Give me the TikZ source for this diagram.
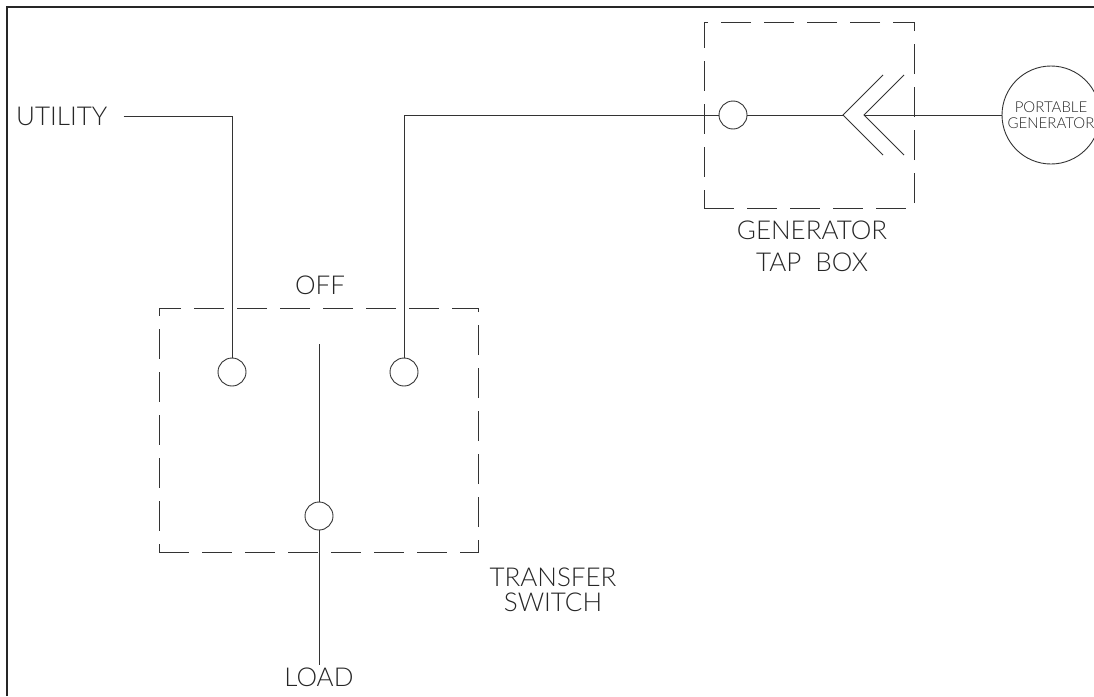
\documentclass[tikz,border=0pt]{standalone}
\usepackage{fontspec}
\setmainfont{Lato}[UprightFont=* Light]
\usetikzlibrary{positioning}

\tikzset{
  wire/.style={draw=black!80, line width=0.9pt},
  term/.style={circle, draw=black!80, line width=0.9pt, minimum size=28pt, inner sep=0pt},
  cabinet/.style={draw=black!80, line width=0.9pt, dash pattern=on 30pt off 13pt, inner sep=0pt},
  tag/.style={font=\fontsize{26}{25}\selectfont, text=black!85, align=center, inner sep=2pt},
}

\begin{document}
\begin{tikzpicture}[x=1pt,y=-1pt]
\useasboundingbox (0,0) rectangle (1094,696);
%%%FRAME
\draw[line width=2pt, black!85] (7,696) -- (7,7) -- (1094,7);

%%%BOXES
\node[cabinet, minimum width=319pt, minimum height=244pt] (switchbox) at (318.5,430) {};
\node[cabinet, minimum width=210pt, minimum height=186pt] (tapbox) at (809,115) {};

%%%TERMINALS
\node[term] (tu) at (232,372) {};
\node[term] (tg) at (404,372) {};
\node[term] (tl) at (319,516) {};
\node[term] (tb) at (733,115) {};
\node[circle, draw=black!80, line width=0.9pt, minimum size=98pt, inner sep=0pt] (pg) at (1051,115) {};
\coordinate (blade) at (319,344);
\coordinate (plug) at (843,115);
\coordinate (socket) at (864,115);

%%%LABELS
\node[tag, anchor=west, inner xsep=0pt] (utility) at (16,116) {UTILITY};
\node[tag] (off) at (320,285) {OFF};
\node[tag] (load) at (319,677) {LOAD};
\node[tag] (switchname) at (553,590) {TRANSFER\\SWITCH};
\node[tag, font=\fontsize{26}{32}\selectfont] (tapname) at (812,246) {GENERATOR\\TAP\ \ BOX};
\node[font=\fontsize{15}{16}\selectfont, text=black!85, align=center, inner sep=0pt] at (pg) {PORTABLE\\GENERATOR};

%%%WIRES
\draw[wire] ([xshift=16pt]utility.east) -| (tu.north);
\draw[wire] (tg.north) |- (tb.west);
\draw[wire] (tb.east) -- (plug);
\draw[wire] (socket) -- (pg.west);
\draw[wire] (blade) -- (tl.north);
\draw[wire] (tl.south) -- (load.north);
%%%CONNECTOR
\draw[wire] ([shift={(40,-40)}]plug) -- (plug) -- ([shift={(40,40)}]plug);
\draw[wire] ([shift={(40,-40)}]socket) -- (socket) -- ([shift={(40,40)}]socket);
\end{tikzpicture}
\end{document}
